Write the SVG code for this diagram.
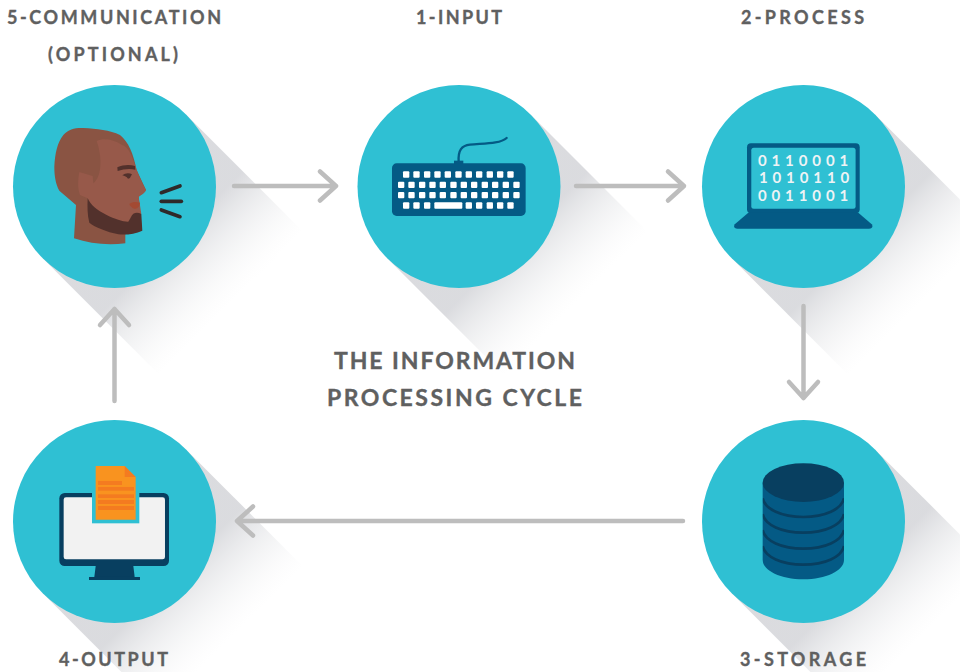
<svg xmlns="http://www.w3.org/2000/svg" width="960" height="672" viewBox="0 0 960 672">
<style>
.t{font-family:"Lato","Liberation Sans",sans-serif;font-weight:700;fill:#5f6060;stroke:#5f6060;stroke-width:.35px;font-size:18px}
.b{font-size:23px}
.d{font-family:"Lato","Liberation Sans",sans-serif;font-weight:700;fill:#eef3f5;font-size:15px;letter-spacing:4.9px}
.c{fill:#2fc0d3}
.s{fill:url(#sh)}
.a{fill:none;stroke:#bdbdbd;stroke-width:4.5;stroke-linecap:round;stroke-linejoin:round}
.k{fill:#fff}
.n{fill:#045a85}
.e{fill:#083f60}
.l{fill:#f47b20}
</style>
<defs>
<linearGradient id="sh" gradientUnits="userSpaceOnUse" x1="80" y1="0" x2="165" y2="0">
<stop offset="0" stop-color="#d4d5d9" stop-opacity=".85"/>
<stop offset=".55" stop-color="#e8e9eb" stop-opacity=".45"/>
<stop offset="1" stop-color="#f4f4f5" stop-opacity="0"/>
</linearGradient>
<clipPath id="dbclip"><path d="M53 98H297V330C297 362 242 388 175 388C108 388 53 362 53 330Z"/></clipPath>
<g id="shadow"><rect class="s" x="0" y="-101.500" width="165" height="203" transform="rotate(45)"/></g>
</defs>
<rect width="960" height="672" fill="#fff"/>

<g id="node-communication">
<use href="#shadow" transform="translate(114.500,186.500)"/>
<circle class="c" cx="114.500" cy="186.500" r="101.500"/>
<g transform="translate(0,70) scale(.3333)">
<path fill="#8a5443" d="M222 505L228 405L178 362C166 340 163 315 163 290C165 250 172 218 190 195C205 178 225 173 250 174C290 176 330 180 360 195C385 215 400 250 410 300L438 360L416 380L426 482L376 493L376 520C325 526 270 522 222 505Z"/>
<path fill="#97594a" d="M290 213C310 203 340 208 365 224C385 228 398 260 410 300C420 325 430 345 438 360C436 368 425 375 416 380L424 432L395 436L385 455L350 453L285 420L263 385L240 375C232 355 234 325 238 306L278 318L280 340C305 320 308 265 290 213Z"/>
<path fill="#52312c" d="M263 385C272 405 290 420 320 435C345 447 370 456 385 455C392 445 395 435 400 431C408 427 416 428 424 432L427 482C405 492 380 495 355 493C320 485 285 472 268 458C262 435 262 410 263 385Z"/>
<path fill="#52312c" d="M352 292C370 284 390 284 405 288L406 299C390 295 370 297 353 303Z"/>
<path fill="#52312c" d="M367 316C376 308 388 308 396 313C392 318 392 326 384 326C380 320 374 318 367 316Z"/>
<path fill="#a34a33" d="M388 402C398 394 410 395 420 398C419 410 412 417 403 416C396 414 390 408 388 402Z"/>
<g fill="none" stroke="#2f2a2a" stroke-width="11" stroke-linecap="round">
<path d="M484 368L540 348"/><path d="M484 394H544"/><path d="M484 420L540 440"/>
</g>
</g>
</g>

<g id="node-input">
<use href="#shadow" transform="translate(459,186.500)"/>
<circle class="c" cx="459" cy="186.500" r="101.500"/>
<g transform="translate(350,120) scale(.3333)">
<path d="M326 125C324 90 335 77 360 74C400 70 450 72 470 54" fill="none" stroke="#045a85" stroke-width="7" stroke-linecap="round"/>
<rect class="n" x="312" y="122" width="28" height="12"/>
<rect class="n" x="126" y="130" width="401" height="158" rx="14"/>
<g class="k">
<rect x="159" y="154" width="19" height="19" rx="3"/><rect x="190" y="154" width="19" height="19" rx="3"/><rect x="222" y="154" width="19" height="19" rx="3"/><rect x="253" y="154" width="19" height="19" rx="3"/><rect x="284" y="154" width="19" height="19" rx="3"/><rect x="316" y="154" width="19" height="19" rx="3"/><rect x="347" y="154" width="19" height="19" rx="3"/><rect x="378" y="154" width="19" height="19" rx="3"/><rect x="410" y="154" width="19" height="19" rx="3"/><rect x="441" y="154" width="19" height="19" rx="3"/><rect x="472" y="154" width="19" height="19" rx="3"/>
<rect x="144" y="185" width="19" height="19" rx="3"/><rect x="175" y="185" width="19" height="19" rx="3"/><rect x="207" y="185" width="19" height="19" rx="3"/><rect x="238" y="185" width="19" height="19" rx="3"/><rect x="269" y="185" width="19" height="19" rx="3"/><rect x="301" y="185" width="19" height="19" rx="3"/><rect x="332" y="185" width="19" height="19" rx="3"/><rect x="363" y="185" width="19" height="19" rx="3"/><rect x="395" y="185" width="19" height="19" rx="3"/><rect x="426" y="185" width="19" height="19" rx="3"/><rect x="458" y="185" width="19" height="19" rx="3"/><rect x="490" y="185" width="19" height="19" rx="3"/>
<rect x="144" y="216" width="19" height="19" rx="3"/><rect x="175" y="216" width="19" height="19" rx="3"/><rect x="207" y="216" width="19" height="19" rx="3"/><rect x="238" y="216" width="19" height="19" rx="3"/><rect x="269" y="216" width="19" height="19" rx="3"/><rect x="301" y="216" width="19" height="19" rx="3"/><rect x="332" y="216" width="19" height="19" rx="3"/><rect x="363" y="216" width="19" height="19" rx="3"/><rect x="395" y="216" width="19" height="19" rx="3"/><rect x="426" y="216" width="19" height="19" rx="3"/><rect x="458" y="216" width="19" height="19" rx="3"/><rect x="490" y="216" width="19" height="19" rx="3"/>
<rect x="159" y="247" width="19" height="19" rx="3"/><rect x="190" y="247" width="19" height="19" rx="3"/><rect x="222" y="247" width="19" height="19" rx="3"/><rect x="253" y="247" width="84" height="19" rx="3"/><rect x="347" y="247" width="19" height="19" rx="3"/><rect x="378" y="247" width="19" height="19" rx="3"/><rect x="410" y="247" width="19" height="19" rx="3"/><rect x="441" y="247" width="19" height="19" rx="3"/><rect x="472" y="247" width="19" height="19" rx="3"/>
</g>
</g>
</g>

<g id="node-process">
<use href="#shadow" transform="translate(803.500,186.500)"/>
<circle class="c" cx="803.500" cy="186.500" r="101.500"/>
<rect class="n" x="747" y="143.300" width="112.700" height="70" rx="4"/>
<rect class="c" x="751.300" y="147.700" width="104.300" height="61" rx="2.500"/>
<path class="n" d="M748.300 212.700H858.300L872 224.500Q873.500 228.700 869 228.700H737.500Q733 228.700 734.500 224.500Z"/>
<text class="d" x="805.500" y="165.700" text-anchor="middle">0110001</text>
<text class="d" x="806.500" y="183.300" text-anchor="middle">1010110</text>
<text class="d" x="805.500" y="201" text-anchor="middle">0011001</text>
</g>

<g id="node-storage">
<use href="#shadow" transform="translate(803.500,521.500)"/>
<circle class="c" cx="803.500" cy="521.500" r="101.500"/>
<g transform="translate(745,450) scale(.3333)">
<path class="n" d="M53 98H297V330C297 362 242 388 175 388C108 388 53 362 53 330Z"/>
<g fill="none" stroke="#083f60" stroke-width="8" clip-path="url(#dbclip)">
<path d="M53 145C60 178 110 201 175 201C240 201 290 178 297 145"/>
<path d="M53 192C60 225 110 248 175 248C240 248 290 225 297 192"/>
<path d="M53 240C60 273 110 296 175 296C240 296 290 273 297 240"/>
<path d="M53 288C60 321 110 344 175 344C240 344 290 321 297 288"/>
</g>
<ellipse class="e" cx="175" cy="98" rx="122" ry="58"/>
</g>
</g>

<g id="node-output">
<use href="#shadow" transform="translate(114.500,521.500)"/>
<circle class="c" cx="114.500" cy="521.500" r="101.500"/>
<g transform="translate(40,450) scale(.3333)">
<path class="e" d="M167 348H280L284 381H163Z"/>
<rect class="e" x="147" y="381" width="153" height="9"/>
<rect class="e" x="58" y="129" width="329" height="219" rx="16"/>
<rect x="71" y="142" width="304" height="186" rx="7" fill="#f2f2f2"/>
<rect class="c" x="156" y="125" width="142" height="95"/>
<path fill="#f9931f" d="M167 48H254L287 81V209H167Z"/>
<path class="l" d="M254 48L287 81H254Z"/>
<rect class="l" x="174" y="93" width="72" height="12"/>
<rect class="l" x="174" y="111" width="108" height="11"/>
<rect class="l" x="174" y="133" width="108" height="11"/>
<rect class="l" x="174" y="150" width="108" height="12"/>
<rect class="l" x="174" y="168" width="108" height="12"/>
</g>
</g>

<g id="connectors">
<path class="a" d="M234 186H336M320 171.500L336 186L320 200.500"/>
<path class="a" d="M576 186H684M668 171.500L684 186L668 200.500"/>
<path class="a" d="M803.500 306V398M789 382L803.500 398L818 382"/>
<path class="a" d="M683 521H237M253 506.500L237 521L253 535.500"/>
<path class="a" d="M114.500 401V309M100 325L114.500 309L129 325"/>
</g>

<g id="labels">
<text class="t" x="7" y="24" textLength="214" lengthAdjust="spacing">5-COMMUNICATION</text>
<text class="t" x="48" y="61" textLength="130" lengthAdjust="spacing">(OPTIONAL)</text>
<text class="t" x="416" y="24" textLength="86" lengthAdjust="spacing">1-INPUT</text>
<text class="t" x="741" y="24" textLength="123" lengthAdjust="spacing">2-PROCESS</text>
<text class="t" x="59" y="666" textLength="109" lengthAdjust="spacing">4-OUTPUT</text>
<text class="t" x="740" y="666" textLength="126" lengthAdjust="spacing">3-STORAGE</text>
<text class="t b" x="334" y="369" textLength="241" lengthAdjust="spacing">THE INFORMATION</text>
<text class="t b" x="327" y="406" textLength="255" lengthAdjust="spacing">PROCESSING CYCLE</text>
</g>
</svg>
